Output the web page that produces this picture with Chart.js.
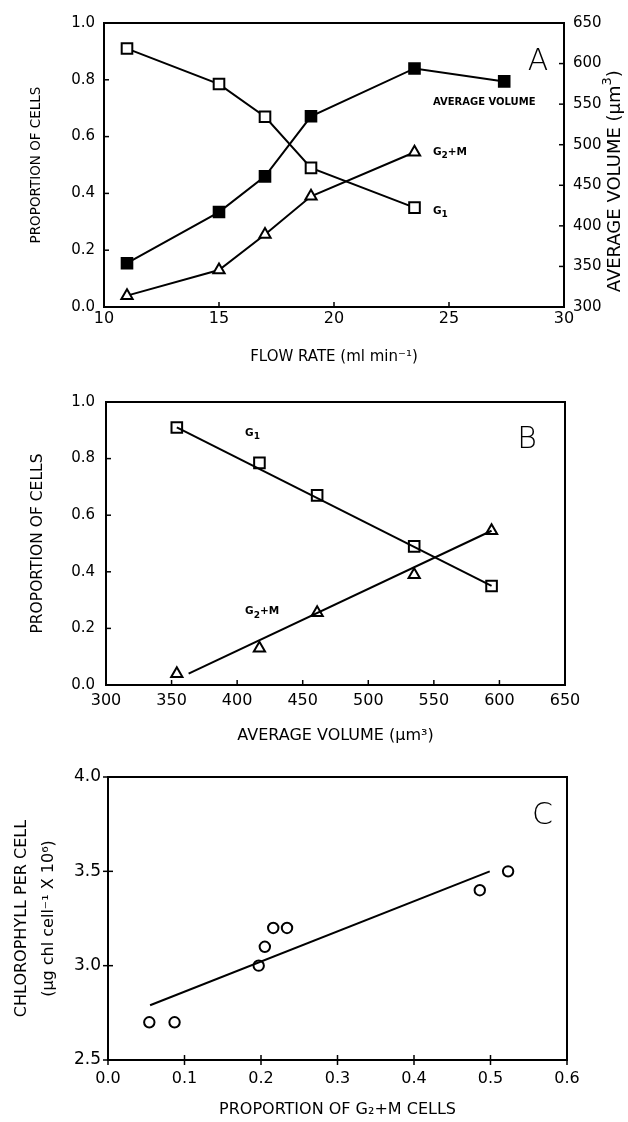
<!DOCTYPE html>
<html><head><meta charset="utf-8">
<script src="https://cdn.jsdelivr.net/npm/chart.js@4.4.1/dist/chart.umd.min.js"></script>
<style>
html,body{margin:0;padding:0;background:#fff;}
#wrap{position:relative;width:628px;height:1122px;background:#fff;}
canvas{position:absolute;left:0;}
</style></head><body>
<div id="wrap">
<canvas id="cA" width="628" height="372" style="top:0px"></canvas>
<canvas id="cB" width="628" height="378" style="top:372px"></canvas>
<canvas id="cC" width="628" height="372" style="top:750px"></canvas>
</div>
<script>
// ---------------- DATA ----------------
// Panel A
const flowRate = [11, 15, 17, 19, 23.5];
const flowRateVol = [11, 15, 17, 19, 23.5, 27.4];
const g1Prop = [0.91, 0.785, 0.67, 0.49, 0.35];
const g2mProp = [0.04, 0.13, 0.255, 0.39, 0.545];
const avgVolume = [354, 417, 461, 535, 594, 578];
const flowTicks = [10, 15, 20, 25, 30];
const propTicks = [0, 0.2, 0.4, 0.6, 0.8, 1.0];
const volTicks = [300, 350, 400, 450, 500, 550, 600, 650];
// Panel B (same cells plotted against average volume)
const volumeB = [354, 417, 461, 535, 594];
const g1FitVol = [354, 594];
const g1Fit = [0.91, 0.35];
const g2mFitVol = [363, 594];
const g2mFit = [0.04, 0.545];
// Panel C
const g2mFraction = [0.054, 0.087, 0.197, 0.205, 0.216, 0.234, 0.486, 0.523];
const chlPerCell = [2.70, 2.70, 3.00, 3.10, 3.20, 3.20, 3.40, 3.50];
const chlFitX = [0.055, 0.499];
const chlFitY = [2.79, 3.50];
const fracTicks = [0, 0.1, 0.2, 0.3, 0.4, 0.5, 0.6];
const chlTicks = [2.5, 3.0, 3.5, 4.0];

// ---------------- HELPERS ----------------
const FAM = '"DejaVu Sans", "Liberation Sans", sans-serif';
const pts = (xs, ys) => xs.map((x, i) => ({x: x, y: ys[i]}));
const setTicks = arr => (s => { s.ticks = arr.map(v => ({value: v})); });

const framePlugin = {
  id: 'frameTicks',
  afterDraw(chart, args, opts) {
    const ctx = chart.ctx, a = chart.chartArea;
    ctx.save();
    ctx.strokeStyle = '#000';
    ctx.lineWidth = 2;
    ctx.strokeRect(a.left, a.top, a.right - a.left, a.bottom - a.top);
    ctx.lineWidth = 1.5;
    const L = 5;
    for (const id in (opts.modes || {})) {
      const s = chart.scales[id];
      if (!s) continue;
      const mode = opts.modes[id];
      s.ticks.forEach(t => {
        const p = s.getPixelForValue(t.value);
        ctx.beginPath();
        if (s.isHorizontal()) {
          const y0 = a.bottom;
          ctx.moveTo(p, mode === 'cross' ? y0 + L : y0);
          ctx.lineTo(p, y0 - L);
        } else if (s.position === 'left') {
          const x0 = a.left;
          ctx.moveTo(mode === 'cross' ? x0 - L : x0, p);
          ctx.lineTo(x0 + L, p);
        } else {
          const x0 = a.right;
          ctx.moveTo(mode === 'cross' ? x0 + L : x0, p);
          ctx.lineTo(x0 - L, p);
        }
        ctx.stroke();
      });
    }
    ctx.restore();
  }
};

const textPlugin = {
  id: 'labelText',
  afterDraw(chart, args, opts) {
    const ctx = chart.ctx;
    ctx.save();
    ctx.fillStyle = '#000';
    ctx.textBaseline = 'middle';
    (opts.items || []).forEach(it => {
      const ys = chart.scales[it.yAxis || 'y'];
      let x0 = (it.dxFromRight !== undefined) ? chart.chartArea.right + it.dxFromRight
               : chart.scales[it.xAxis || 'x'].getPixelForValue(it.x);
      const y0 = ys.getPixelForValue(it.y);
      let total = 0;
      it.parts.forEach(p => { ctx.font = (p.w || it.w || 'bold') + ' ' + p.s + 'px ' + FAM; total += ctx.measureText(p.t).width; });
      ctx.save();
      ctx.translate(x0, y0);
      if (it.rot) ctx.rotate(it.rot * Math.PI / 180);
      let x = (it.align === 'center') ? -total / 2 : 0;
      ctx.textAlign = 'left';
      it.parts.forEach(p => {
        ctx.font = (p.w || it.w || 'bold') + ' ' + p.s + 'px ' + FAM;
        ctx.fillText(p.t, x, (p.dy || 0));
        x += ctx.measureText(p.t).width;
      });
      ctx.restore();
    });
    ctx.restore();
  }
};

function tickFont(size) { return {family: FAM, size: size, lineHeight: 1.2}; }

function baseAxis(o) {
  return Object.assign({
    type: 'linear',
    grid: {display: false, drawTicks: false},
    border: {display: false},
  }, o);
}

// ---------------- PANEL A ----------------
new Chart(document.getElementById('cA'), {
  type: 'scatter',
  data: {
    datasets: [
      {label: 'G1', data: pts(flowRate, g1Prop), showLine: true, yAxisID: 'y',
       borderColor: '#000', borderWidth: 2, pointStyle: 'rect', pointRadius: 7.5,
       pointBorderWidth: 2, pointBackgroundColor: '#fff', pointBorderColor: '#000'},
      {label: 'G2+M', data: pts(flowRate, g2mProp), showLine: true, yAxisID: 'y',
       borderColor: '#000', borderWidth: 2, pointStyle: 'triangle', pointRadius: 6.5,
       pointBorderWidth: 2, pointBackgroundColor: '#fff', pointBorderColor: '#000'},
      {label: 'Average volume', data: pts(flowRateVol, avgVolume), showLine: true, yAxisID: 'y1',
       borderColor: '#000', borderWidth: 2, pointStyle: 'rect', pointRadius: 7.5,
       pointBorderWidth: 2, pointBackgroundColor: '#000', pointBorderColor: '#000'}
    ]
  },
  options: {
    responsive: false, animation: false, devicePixelRatio: 1,
    layout: {padding: {top: 23, left: 0, right: 0, bottom: 0}},
    plugins: {legend: {display: false}, tooltip: {enabled: false},
      frameTicks: {modes: {x: 'in', y: 'in', y1: 'in'}},
      labelText: {items: [
        {x: 24.3, y: 0.722, parts: [{t: 'AVERAGE VOLUME', s: 10}]},
        {x: 24.3, y: 0.546, parts: [{t: 'G', s: 10.5}, {t: '2', s: 9, dy: 4}, {t: '+M', s: 10.5}]},
        {x: 24.3, y: 0.338, parts: [{t: 'G', s: 10.5}, {t: '1', s: 9, dy: 4}]},
        {x: 28.87, y: 0.863, align: 'center', w: '200', parts: [{t: 'A', s: 30}]},
        {dxFromRight: 51, y: 455, yAxis: 'y1', rot: -90, align: 'center', w: 'normal',
         parts: [{t: 'AVERAGE VOLUME (\u03BCm', s: 18}, {t: '3', s: 13, dy: -7}, {t: ')', s: 18}]}
      ]}
    },
    scales: {
      x: baseAxis({min: 10, max: 30, position: 'bottom',
        afterBuildTicks: setTicks(flowTicks),
        afterFit: s => { s.height = 65; },
        ticks: {color: '#000', font: tickFont(16), padding: 2, autoSkip: false, maxRotation: 0, callback: v => String(v)},
        title: {display: true, text: 'FLOW RATE (ml min\u207B\u00B9)', color: '#000',
          font: {family: FAM, size: 15, lineHeight: 1}, padding: {top: 0, bottom: 7}}}),
      y: baseAxis({min: 0, max: 1, position: 'left',
        afterBuildTicks: setTicks(propTicks),
        afterFit: s => { s.width = 104; },
        ticks: {color: '#000', font: tickFont(15), padding: 9, autoSkip: false, callback: v => v.toFixed(1)},
        title: {display: true, text: 'PROPORTION OF CELLS', color: '#000',
          font: {family: FAM, size: 13.5, lineHeight: 1}, padding: {top: 30, bottom: 0}}}),
      y1: baseAxis({min: 300, max: 650, position: 'right',
        afterBuildTicks: setTicks(volTicks),
        afterFit: s => { s.width = 64; },
        ticks: {color: '#000', font: tickFont(15), padding: 9, autoSkip: false, callback: v => String(v)},
        title: {display: false}})
    }
  },
  plugins: [framePlugin, textPlugin]
});

// ---------------- PANEL B ----------------
new Chart(document.getElementById('cB'), {
  type: 'scatter',
  data: {
    datasets: [
      {label: 'G1', data: pts(volumeB, g1Prop), showLine: false,
       pointStyle: 'rect', pointRadius: 7.5, pointBorderWidth: 2,
       pointBackgroundColor: 'rgba(0,0,0,0)', pointBorderColor: '#000'},
      {label: 'G2+M', data: pts(volumeB, g2mProp), showLine: false,
       pointStyle: 'triangle', pointRadius: 6.5, pointBorderWidth: 2,
       pointBackgroundColor: 'rgba(0,0,0,0)', pointBorderColor: '#000'},
      {label: 'G1 fit', data: pts(g1FitVol, g1Fit), showLine: true, pointRadius: 0,
       borderColor: '#000', borderWidth: 2},
      {label: 'G2+M fit', data: pts(g2mFitVol, g2mFit), showLine: true, pointRadius: 0,
       borderColor: '#000', borderWidth: 2}
    ]
  },
  options: {
    responsive: false, animation: false, devicePixelRatio: 1,
    layout: {padding: {top: 30, left: 0, right: 63, bottom: 0}},
    plugins: {legend: {display: false}, tooltip: {enabled: false},
      frameTicks: {modes: {x: 'in', y: 'in'}},
      labelText: {items: [
        {x: 406, y: 0.89, parts: [{t: 'G', s: 10.5}, {t: '1', s: 9, dy: 4}]},
        {x: 406, y: 0.259, parts: [{t: 'G', s: 10.5}, {t: '2', s: 9, dy: 4}, {t: '+M', s: 10.5}]},
        {x: 621, y: 0.866, align: 'center', w: '200', parts: [{t: 'B', s: 30}]}
      ]}
    },
    scales: {
      x: baseAxis({min: 300, max: 650, position: 'bottom',
        afterBuildTicks: setTicks(volTicks),
        afterFit: s => { s.height = 65; },
        ticks: {color: '#000', font: tickFont(16), padding: 6, autoSkip: false, maxRotation: 0, callback: v => String(v)},
        title: {display: true, text: 'AVERAGE VOLUME (\u03BCm\u00B3)', color: '#000',
          font: {family: FAM, size: 16, lineHeight: 1}, padding: {top: 0, bottom: 6}}}),
      y: baseAxis({min: 0, max: 1, position: 'left',
        afterBuildTicks: setTicks(propTicks),
        afterFit: s => { s.width = 106; },
        ticks: {color: '#000', font: tickFont(15), padding: 11, autoSkip: false, callback: v => v.toFixed(1)},
        title: {display: true, text: 'PROPORTION OF CELLS', color: '#000',
          font: {family: FAM, size: 15.5, lineHeight: 1}, padding: {top: 30, bottom: 0}}})
    }
  },
  plugins: [framePlugin, textPlugin]
});

// ---------------- PANEL C ----------------
new Chart(document.getElementById('cC'), {
  type: 'scatter',
  data: {
    datasets: [
      {label: 'Chlorophyll', data: pts(g2mFraction, chlPerCell), showLine: false,
       pointStyle: 'circle', pointRadius: 5.2, pointBorderWidth: 2,
       pointBackgroundColor: 'rgba(0,0,0,0)', pointBorderColor: '#000'},
      {label: 'fit', data: pts(chlFitX, chlFitY), showLine: true, pointRadius: 0,
       borderColor: '#000', borderWidth: 2}
    ]
  },
  options: {
    responsive: false, animation: false, devicePixelRatio: 1,
    layout: {padding: {top: 27, left: 0, right: 61, bottom: 0}},
    plugins: {legend: {display: false}, tooltip: {enabled: false},
      frameTicks: {modes: {x: 'cross', y: 'cross'}},
      labelText: {items: [
        {x: 0.568, y: 3.79, align: 'center', w: '200', parts: [{t: 'C', s: 30}]}
      ]}
    },
    scales: {
      x: baseAxis({min: 0, max: 0.6, position: 'bottom',
        afterBuildTicks: setTicks(fracTicks),
        afterFit: s => { s.height = 62; },
        ticks: {color: '#000', font: tickFont(16), padding: 9, autoSkip: false, maxRotation: 0, callback: v => v.toFixed(1)},
        title: {display: true, text: 'PROPORTION OF G\u2082+M CELLS', color: '#000',
          font: {family: FAM, size: 16, lineHeight: 1}, padding: {top: 0, bottom: 4}}}),
      y: baseAxis({min: 2.5, max: 4.0, position: 'left',
        afterBuildTicks: setTicks(chlTicks),
        afterFit: s => { s.width = 108; },
        ticks: {color: '#000', font: tickFont(17), padding: 7, autoSkip: false, callback: v => v.toFixed(1)},
        title: {display: true, text: ['CHLOROPHYLL PER CELL', '(\u03BCg chl cell\u207B\u00B9 X 10\u2076)'], color: '#000',
          font: {family: FAM, size: 16, lineHeight: 1.65}, padding: {top: 9, bottom: 0}}})
    }
  },
  plugins: [framePlugin, textPlugin]
});
</script>
</body></html>
